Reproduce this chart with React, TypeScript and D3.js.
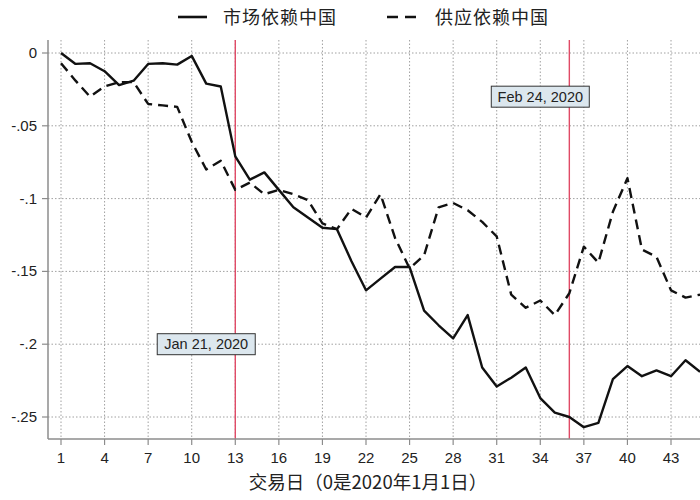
import * as d3 from "d3";

const WIDTH = 700;
const HEIGHT = 500;

// trading days 1..45
const days = d3.range(1, 46);

const marketValues = [
  0, -0.0075, -0.007, -0.0125, -0.022, -0.019, -0.0075, -0.007, -0.008, -0.002,
  -0.021, -0.023, -0.071, -0.087, -0.082, -0.094, -0.106, -0.113, -0.12, -0.121,
  -0.143, -0.163, -0.155, -0.147, -0.147, -0.177, -0.187, -0.196, -0.18, -0.216,
  -0.229, -0.223, -0.216, -0.237, -0.247, -0.25, -0.257, -0.254, -0.224, -0.215,
  -0.222, -0.218, -0.222, -0.211, -0.219,
];

const supplyValues = [
  -0.007, -0.019, -0.03, -0.023, -0.02, -0.02, -0.035, -0.036, -0.037, -0.061,
  -0.08, -0.074, -0.094, -0.089, -0.097, -0.094, -0.097, -0.101, -0.117, -0.121,
  -0.107, -0.113, -0.097, -0.127, -0.148, -0.139, -0.106, -0.103, -0.108, -0.116,
  -0.126, -0.166, -0.175, -0.17, -0.18, -0.165, -0.133, -0.144, -0.109, -0.086,
  -0.135, -0.14, -0.163, -0.168, -0.166,
];

const xTicks = [1, 4, 7, 10, 13, 16, 19, 22, 25, 28, 31, 34, 37, 40, 43];
const yTicks = [0, -0.05, -0.1, -0.15, -0.2, -0.25];
const yTickLabels = ["0", "-.05", "-.1", "-.15", "-.2", "-.25"];

const events = [
  { day: 13, label: "Jan 21, 2020", labelDay: 11, labelValue: -0.2 },
  { day: 36, label: "Feb 24, 2020", labelDay: 34, labelValue: -0.03 },
];

const seriesNames = ["市场依赖中国", "供应依赖中国"];

const PLOT = { left: 48, right: 700, top: 40, bottom: 439 };

const NUM_FONT = "'Liberation Sans', Arial, sans-serif";
const CJK_FONT = "'Noto Sans CJK SC', 'Noto Sans', sans-serif";

export default function App() {
  const xScale = d3.scaleLinear().domain([1, 43]).range([61, 671]);
  const yScale = d3.scaleLinear().domain([0, -0.25]).range([53, 417]);

  const line = d3
    .line<number>()
    .x((_, i) => xScale(days[i]))
    .y((d) => yScale(d));

  const gridColor = "#a0a0a0";
  const axisColor = "#8c8c8c";
  const textColor = "#222";

  return (
    <div style={{ position: "absolute", left: 0, top: 0 }}>
      <svg width={WIDTH} height={HEIGHT} style={{ background: "white", display: "block" }}>
        <defs>
          <clipPath id="plot-clip">
            <rect
              x={PLOT.left}
              y={PLOT.top}
              width={PLOT.right - PLOT.left}
              height={PLOT.bottom - PLOT.top}
            />
          </clipPath>
        </defs>

        {/* Grid */}
        {yTicks.map((t) => (
          <line
            key={"gy" + t}
            x1={PLOT.left}
            x2={PLOT.right}
            y1={yScale(t)}
            y2={yScale(t)}
            stroke={gridColor}
            strokeWidth={1}
            strokeDasharray="1.5,2"
          />
        ))}
        {xTicks.map((t) => (
          <line
            key={"gx" + t}
            x1={xScale(t)}
            x2={xScale(t)}
            y1={PLOT.top}
            y2={PLOT.bottom}
            stroke={gridColor}
            strokeWidth={1}
            strokeDasharray="1.5,2"
          />
        ))}

        {/* Event lines */}
        {events.map((e) => (
          <line
            key={"ev" + e.day}
            x1={xScale(e.day)}
            x2={xScale(e.day)}
            y1={PLOT.top}
            y2={PLOT.bottom}
            stroke="#e04a66"
            strokeWidth={1.4}
          />
        ))}

        {/* Series */}
        <g clipPath="url(#plot-clip)">
          <path
            d={line(marketValues) ?? ""}
            fill="none"
            stroke="#111"
            strokeWidth={2.4}
            strokeLinejoin="round"
          />
          <path
            d={line(supplyValues) ?? ""}
            fill="none"
            stroke="#111"
            strokeWidth={2.4}
            strokeDasharray="10,6"
            strokeLinejoin="round"
          />
        </g>

        {/* Event labels */}
        {events.map((e) => {
          const cx = xScale(e.labelDay);
          const cy = yScale(e.labelValue);
          const w = 98;
          const h = 21;
          return (
            <g key={"lb" + e.day}>
              <rect
                x={cx - w / 2}
                y={cy - h / 2}
                width={w}
                height={h}
                fill="#dce7ee"
                stroke="#333"
                strokeWidth={1}
              />
              <text
                x={cx}
                y={cy + 5}
                textAnchor="middle"
                fontFamily={NUM_FONT}
                fontSize={14.5}
                fill="#222"
              >
                {e.label}
              </text>
            </g>
          );
        })}

        {/* Axes */}
        <line x1={PLOT.left} x2={PLOT.left} y1={PLOT.top} y2={PLOT.bottom} stroke={axisColor} strokeWidth={1.5} />
        <line x1={PLOT.left} x2={PLOT.right} y1={PLOT.bottom} y2={PLOT.bottom} stroke={axisColor} strokeWidth={1.5} />

        {yTicks.map((t, i) => (
          <g key={"yt" + t}>
            <line x1={PLOT.left - 6} x2={PLOT.left} y1={yScale(t)} y2={yScale(t)} stroke={axisColor} strokeWidth={1.2} />
            <text
              x={37}
              y={yScale(t) + 5}
              textAnchor="end"
              fontFamily={NUM_FONT}
              fontSize={15}
              fill={textColor}
            >
              {yTickLabels[i]}
            </text>
          </g>
        ))}

        {xTicks.map((t) => (
          <g key={"xt" + t}>
            <line x1={xScale(t)} x2={xScale(t)} y1={PLOT.bottom} y2={PLOT.bottom + 6} stroke={axisColor} strokeWidth={1.2} />
            <text
              x={xScale(t)}
              y={463}
              textAnchor="middle"
              fontFamily={NUM_FONT}
              fontSize={15}
              fill={textColor}
            >
              {t}
            </text>
          </g>
        ))}

        <text
          x={368}
          y={489}
          textAnchor="middle"
          fontFamily={CJK_FONT}
          fontSize={18.5}
          fill="#222"
        >
          交易日（0是2020年1月1日）
        </text>

        {/* Legend */}
        <line x1={178} x2={207} y1={17} y2={17} stroke="#111" strokeWidth={2.6} />
        <text x={223} y={23.5} fontFamily={CJK_FONT} fontSize={18} letterSpacing={1} fill="#222">
          {seriesNames[0]}
        </text>
        <line x1={387} x2={417} y1={17} y2={17} stroke="#111" strokeWidth={2.6} strokeDasharray="11,7" />
        <text x={435} y={23.5} fontFamily={CJK_FONT} fontSize={18} letterSpacing={1} fill="#222">
          {seriesNames[1]}
        </text>
      </svg>
    </div>
  );
}
